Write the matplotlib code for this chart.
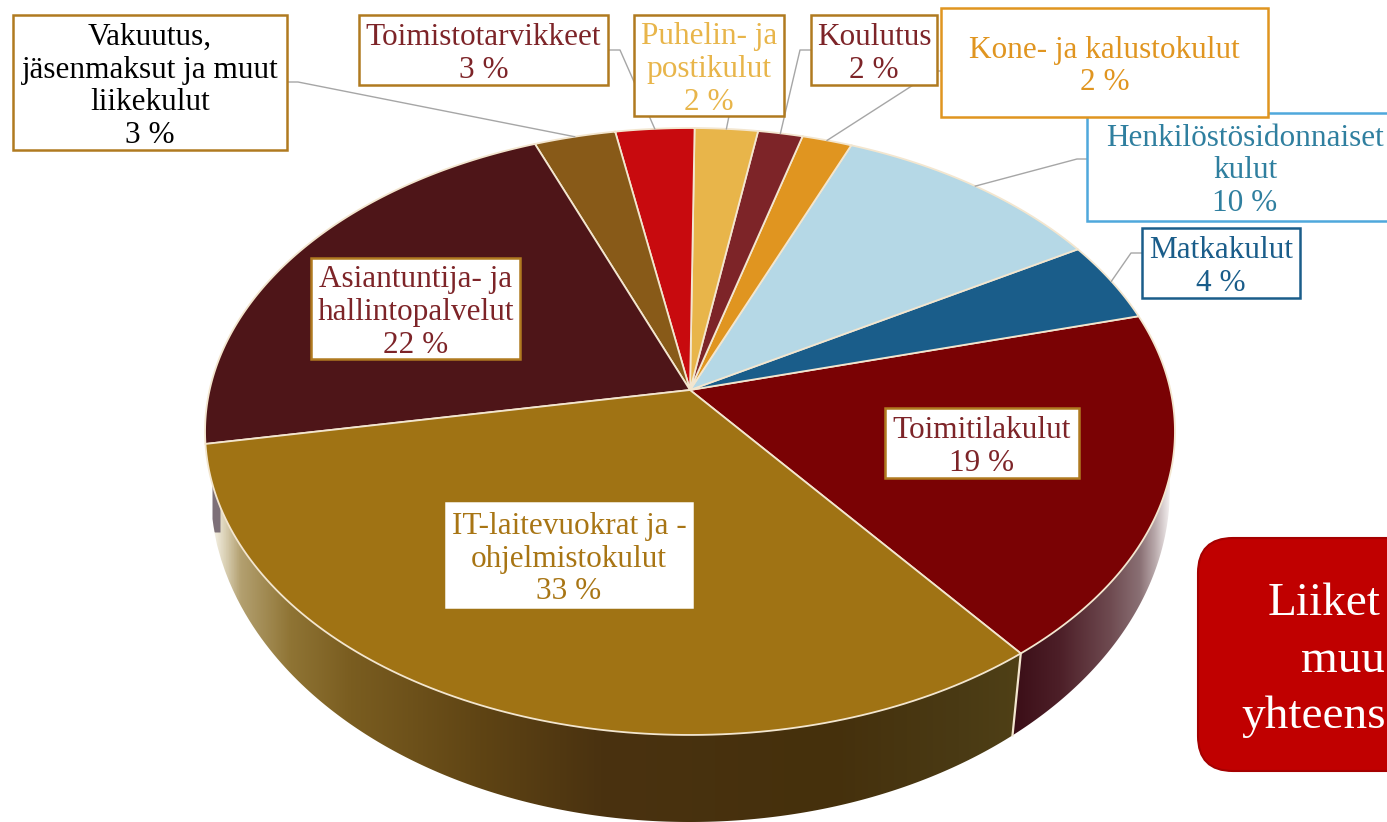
import numpy as np
import matplotlib
matplotlib.use('Agg')
import matplotlib.pyplot as plt
from matplotlib.colors import to_rgb
from matplotlib.patches import Polygon, FancyBboxPatch, Rectangle

# clockwise from the front seam, percent
names = ['Toimitilakulut', 'Matkakulut', 'Henkilöstösidonnaiset\nkulut', 'Kone- ja kalustokulut',
         'Koulutus', 'Puhelin- ja\npostikulut', 'Toimistotarvikkeet',
         'Vakuutus,\njäsenmaksut ja muut\nliikekulut', 'Asiantuntija- ja\nhallintopalvelut',
         'IT-laitevuokrat ja -\nohjelmistokulut']
values = [18.6, 4.3, 10.4, 1.9, 1.7, 2.4, 3.0, 3.1, 21.9, 32.7]
colors = ['#7a0204', '#1a5d8a', '#b5d8e6', '#e09520', '#7d2428',
          '#e8b54a', '#c80a0e', '#885a18', '#4e1518', '#a07314']
text_colors = ['#7d2428', '#1a5d8a', '#2f7f9f', '#e09520', '#7d2428',
               '#e8b54a', '#7d2428', '#000000', '#7d2428', '#a87514']
border_colors = ['#b07a20', '#1a5d8a', '#4fa8dc', '#e09520', '#b07a20',
                 '#b07a20', '#b07a20', '#b07a20', '#b07a20', '#ffffff']
# x0, y0, x1, y1 in pixels
boxes = [(885, 408, 1079, 478), (1142, 228, 1300, 298), (1087, 113, 1400, 221), (941, 8, 1268, 117),
         (811, 15, 937, 85), (634, 15, 784, 116), (359, 15, 608, 85),
         (13, 15, 287, 150), (311, 258, 520, 359), (446, 503, 692, 607)]
# start of each leader, None = label sits on its slice
leaders = [None, [(1142, 253), (1131, 253)], [(1087, 159), (1077, 159)], [(941, 71), (935, 71)],
           [(811, 50), (800, 50)], [(729, 116)], [(608, 50), (620, 50)],
           [(287, 82), (298, 82)], None, None]
callout_lines = ['Liiket', 'muu', 'yhteens']

# perspective of the top face
CX, CY = 690, 390
A, B, K = 480.4, 297.8, 0.1367
START = 142.1
EY = CY + B * K / (1 - K ** 2)
EA = A / np.sqrt(1 - K ** 2)
EB = B / (1 - K ** 2)
# bottom edge of the wall
LOW_Y, LOW_A, LOW_B = 488, 480, 334


def rim(t):
    t = np.radians(t)
    u, v = np.sin(t), np.cos(t)
    w = 1 + K * v
    return CX + A * u / w, CY - B * v / w


def top_y(x):
    return EY + EB * np.sqrt(np.clip(1 - ((x - CX) / EA) ** 2, 0, 1))


def low_y(x):
    return LOW_Y + LOW_B * np.sqrt(np.clip(1 - ((x - CX) / LOW_A) ** 2, 0, 1))


def wall(ax, x_top, x_low, stops, cols):
    xt = np.linspace(x_top[0], x_top[1], 200)
    xl = np.linspace(x_low[1], x_low[0], 200)
    pts = np.r_[np.c_[xt, top_y(xt)], np.c_[xl, low_y(xl)]]
    gx = np.linspace(stops[0], stops[-1], 500)
    rgb = np.array([to_rgb(c) for c in cols])
    grad = np.stack([np.interp(gx, stops, rgb[:, i]) for i in range(3)], axis=1)[None, :, :]
    im = ax.imshow(grad, extent=(stops[0], stops[-1], 822, 0), aspect='auto', zorder=1)
    im.set_clip_path(Polygon(pts, closed=True, transform=ax.transData))


fig = plt.figure(figsize=(13.87, 8.22), dpi=100)
ax = fig.add_axes([0, 0, 1, 1])

edges = START - np.cumsum([0] + values) * 3.6
seam_x = rim(START)[0]
seam_low = CX + (seam_x - CX) * 0.975

# walls
wall(ax, (213, seam_x), (213, seam_low),
     [213, 222, 240, 290, 350, 480, 600, 830, 960, 1020],
     ['#f4f0e4', '#e0d8c0', '#b3a070', '#8f7434', '#7a5d20', '#5f4414', '#4a3210', '#45300c', '#4a3a14', '#4f4016'])
wall(ax, (seam_x, 1170), (seam_low, 1170),
     [1012, 1060, 1110, 1140, 1155, 1170],
     ['#3a0d16', '#4d1f28', '#6e4a50', '#8a7074', '#b8a8aa', '#f4f0f0'])
gx = np.linspace(212, 220, 20)
ax.fill_between(gx, top_y(gx) - 1, np.minimum(532, low_y(gx)), color='#7d7078', lw=0, zorder=1.5)
sx, sy = rim(START)
ax.plot([sx, seam_low], [sy, low_y(seam_low)], color='#f3e6cf', lw=1.6, zorder=2)

# top face
for i in range(len(values)):
    t = np.linspace(edges[i], edges[i + 1], 120)
    x, y = rim(t)
    ax.add_patch(Polygon(np.r_[[[CX, CY]], np.c_[x, y]], closed=True, facecolor=colors[i],
                         edgecolor='#f3e6cf', lw=1.3, zorder=3))

# leaders, drawn up to the middle of the slice rim
for i in range(len(values)):
    if leaders[i] is None:
        continue
    ex, ey = rim((edges[i] + edges[i + 1]) / 2)
    pts = leaders[i] + [(ex, ey)]
    ax.plot([p[0] for p in pts], [p[1] for p in pts], color='#a6a6a6', lw=1, zorder=4)

# labels
for i in range(len(values)):
    x0, y0, x1, y1 = boxes[i]
    ax.add_patch(Rectangle((x0, y0), x1 - x0, y1 - y0, facecolor='white',
                           edgecolor=border_colors[i], lw=1.8, zorder=5))
    cx = (x0 + x1) / 2
    if i == 2:
        cx = 1245
    ax.text(cx, (y0 + y1) / 2 + 4, names[i] + '\n%d %%' % round(values[i]), color=text_colors[i],
            ha='center', va='center', fontsize=22.5, family='Liberation Serif', linespacing=1.17, zorder=6)

# red call-out, runs off the page
ax.add_patch(FancyBboxPatch((1233, 573), 220, 163, boxstyle='round,pad=35,rounding_size=35',
                            facecolor='#c00000', edgecolor='#a50000', lw=1.5, zorder=5))
for s, x, y in zip(callout_lines, [1268, 1301, 1241], [615, 672, 728]):
    ax.text(x, y, s, color='white', fontsize=34, family='Liberation Serif', zorder=6)

ax.set_xlim(0, 1387)
ax.set_ylim(822, 0)
ax.axis('off')
fig.savefig('out.png', dpi=100, facecolor='white')
